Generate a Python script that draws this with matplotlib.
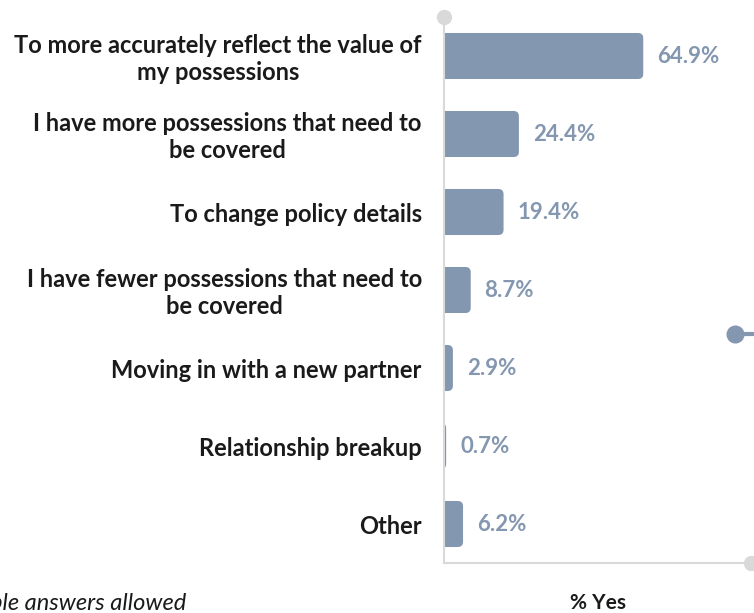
import numpy as np
import matplotlib.pyplot as plt
from matplotlib.patches import FancyBboxPatch
from matplotlib.lines import Line2D

plt.rcParams['font.family'] = ['Lato', 'DejaVu Sans']

reasons = [
    "To more accurately reflect the value of\nmy possessions",
    "I have more possessions that need to\nbe covered",
    "To change policy details",
    "I have fewer possessions that need to\nbe covered",
    "Moving in with a new partner",
    "Relationship breakup",
    "Other",
]
pct_yes = [64.9, 24.4, 19.4, 8.7, 2.9, 0.7, 6.2]

bar_color = '#8497B0'
grey = '#D9D9D9'

W, H = 754, 613
fig = plt.figure(figsize=(W / 100, H / 100), dpi=100)
ax = fig.add_axes([444 / W, 1 - 563 / H, (751 - 444) / W, (563 - 17) / H])

ax.set_xlim(0, 100)
ax.set_ylim(len(reasons) - 0.5, -0.5)

# rounded bars: start left of zero so only the right end looks rounded
bar_h = 0.59
r_x = 1.7
aspect = 77.8 / 3.07
for i, v in enumerate(pct_yes):
    p = FancyBboxPatch((-2 * r_x, i - bar_h / 2), v + 2 * r_x, bar_h,
                       boxstyle=f"round,pad=0,rounding_size={r_x}",
                       mutation_aspect=1 / aspect,
                       fc=bar_color, ec='none', clip_on=True)
    ax.add_patch(p)
    ax.annotate(f"{v:.1f}%", (v, i), xytext=(10, 0), textcoords='offset points',
                ha='left', va='center', color=bar_color, fontsize=16,
                fontweight='bold')
    ax.annotate(reasons[i], (0, i), xytext=(-16, -2), textcoords='offset points',
                ha='right', va='center', multialignment='center',
                color='#1a1a1a', fontsize=17, fontweight='bold',
                annotation_clip=False)

for s in ['top', 'right']:
    ax.spines[s].set_visible(False)
for s in ['left', 'bottom']:
    ax.spines[s].set_color(grey)
    ax.spines[s].set_linewidth(1.5)
ax.set_xticks([])
ax.set_yticks([])

# end dots on the axis lines
ax.plot([0], [-0.5], 'o', ms=10, color=grey, clip_on=False, zorder=5)
ax.plot([100], [len(reasons) - 0.5], 'o', ms=10, color=grey, clip_on=False, zorder=5)

# decorative dot + line at right edge
fig.add_artist(Line2D([735 / W, 1.0], [1 - 334 / H] * 2, color=bar_color, lw=3,
                      transform=fig.transFigure))
fig.add_artist(Line2D([735 / W], [1 - 334 / H], marker='o', ms=12, color=bar_color,
                      transform=fig.transFigure))

fig.text(598 / W, 1 - 603 / H, "% Yes", ha='center', va='center',
         fontsize=15, fontweight='bold', color='#1a1a1a')
# footnote runs off the left edge, as in the original
fig.text(186 / W, 1 - 604 / H, "Multiple answers allowed", ha='right', va='center',
         fontsize=17, style='italic', color='#1a1a1a')

fig.savefig('out.png', dpi=100)
